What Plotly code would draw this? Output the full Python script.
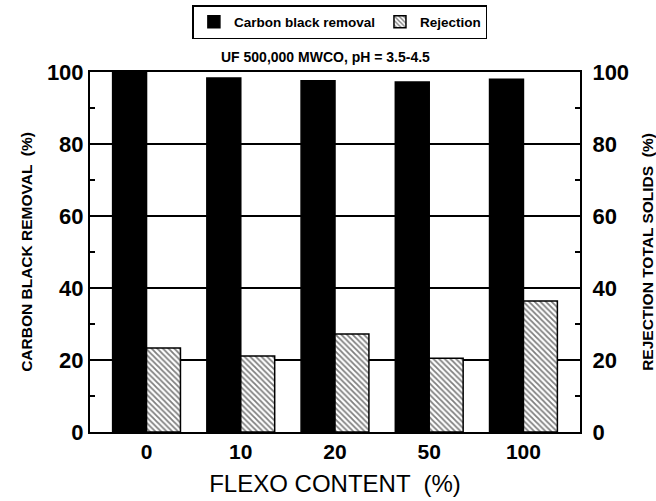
import plotly.graph_objects as go

categories = ["0", "10", "20", "50", "100"]
carbon_black_removal = [100, 98.3, 97.6, 97.2, 98.0]
rejection_total_solids = [23.3, 21.1, 27.2, 20.5, 36.4]

font_family = "Liberation Sans, Arial, sans-serif"

fig = go.Figure()
fig.add_trace(go.Bar(
    x=categories, y=carbon_black_removal, name="Carbon black removal",
    marker=dict(color="black", line=dict(color="black", width=1.5)),
))
fig.add_trace(go.Bar(
    x=categories, y=rejection_total_solids, name="Rejection",
    marker=dict(color="white",
                line=dict(color="black", width=1.5),
                pattern=dict(shape="\\", fgcolor="black", bgcolor="white", size=4, solidity=0.45)),
))
# invisible trace to activate right axis
fig.add_trace(go.Scatter(x=categories, y=rejection_total_solids, yaxis="y2",
                         mode="markers", marker=dict(opacity=0), showlegend=False, hoverinfo="skip"))

tick_font = dict(size=22, family=font_family, color="black", weight="bold")
title_font = dict(size=15.5, family=font_family, color="black", weight="bold")

axis_common = dict(
    range=[0, 100], dtick=20, showline=True, linecolor="black", linewidth=2,
    ticks="", tickfont=tick_font, automargin=False,
    minor=dict(dtick=10, ticks="inside", ticklen=5, tickcolor="black", tickwidth=1.5, showgrid=False),
)

fig.update_layout(
    width=656, height=501,
    margin=dict(l=90, r=76, t=72, b=69, autoexpand=False),
    plot_bgcolor="white", paper_bgcolor="white",
    barmode="group", bargap=0.28, bargroupgap=0.0,
    font=dict(family=font_family, color="black"),
    xaxis=dict(
        range=[-0.6, 4.6], automargin=False,
        showline=True, linecolor="black", linewidth=2, mirror=True, ticks="",
        tickfont=dict(size=21, family=font_family, color="black", weight="bold"),
        ticklabelstandoff=0,
        title=dict(text="FLEXO CONTENT  (%)", font=dict(size=24, family=font_family, color="black"), standoff=13),
    ),
    yaxis=dict(
        **axis_common, mirror=True, showgrid=True, gridcolor="black", gridwidth=1.5,
        title=dict(text="CARBON BLACK REMOVAL  (%)", font=title_font, standoff=10),
    ),
    yaxis2=dict(
        **axis_common, overlaying="y", side="right", showgrid=False,
        ticklabelstandoff=6,
        title=dict(text="REJECTION TOTAL SOLIDS  (%)", font=title_font, standoff=14),
    ),
    legend=dict(
        orientation="h", x=0.51, xanchor="center", y=1.186, yanchor="top",
        bordercolor="black", borderwidth=1.5, bgcolor="white",
        font=dict(size=13.5, family=font_family, color="black", weight="bold"),
    ),
    annotations=[dict(
        text="UF 500,000 MWCO, pH = 3.5-4.5", xref="paper", yref="paper",
        x=0.48, y=1.042, xanchor="center", yanchor="middle", showarrow=False,
        font=dict(size=14, family=font_family, color="black", weight="bold"),
    )],
)

fig.write_html("out.html")
